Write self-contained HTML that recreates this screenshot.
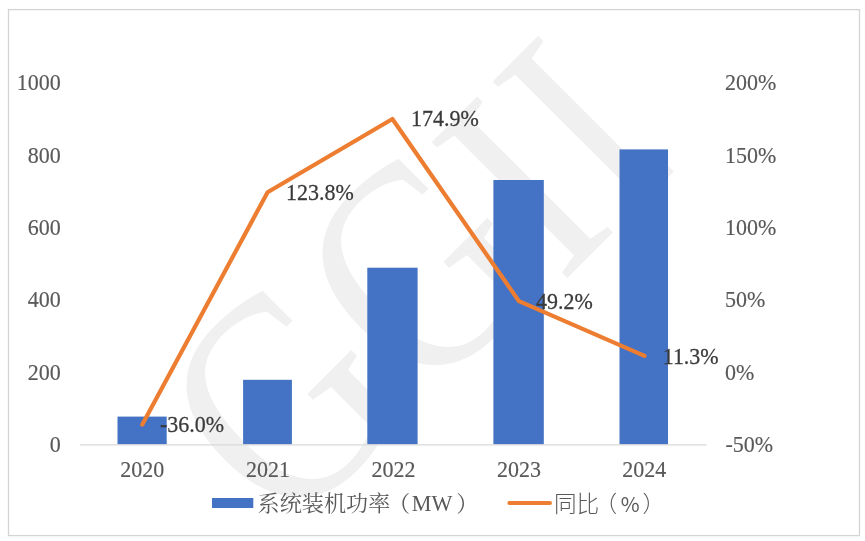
<!DOCTYPE html>
<html lang="zh">
<head>
<meta charset="utf-8">
<title>chart</title>
<style>
html,body{margin:0;padding:0;background:#fff;}
body{width:865px;height:541px;overflow:hidden;position:relative;}
svg{position:absolute;left:0;top:0;display:block;}
text{font-family:"Liberation Serif","Noto Serif CJK SC",serif;}
.ax text,.dl text{transform-box:fill-box;transform-origin:50% 62%;transform:scale(1,1.05);}
.ax{font-size:22px;fill:#595959;stroke:#595959;stroke-width:0.15px;}
.dl{font-size:22px;fill:#3a3a3a;stroke:#3a3a3a;stroke-width:0.25px;}
.lg{font-size:22.15px;fill:#595959;font-family:"Liberation Serif","Noto Serif CJK SC",serif;}
.lg2{font-size:22.6px;fill:#595959;font-weight:300;font-family:"Noto Sans CJK SC","Liberation Sans",sans-serif;}
</style>
</head>
<body>
<svg width="865" height="541" viewBox="0 0 865 541">
<rect x="0" y="0" width="865" height="541" fill="#ffffff"/>
<!-- watermark -->
<g fill="#f0f0f0" font-family="Liberation Serif, serif">
<text font-size="265" transform="translate(286.8,536.8) rotate(-45) scale(0.97,1.14)">G</text>
<text font-size="265" transform="translate(422.8,404.8) rotate(-45) scale(0.97,1.14)">G</text>
<text font-size="265" transform="translate(561.1,284.2) rotate(-45) scale(0.93,1.106)">I</text>
<text font-size="265" transform="translate(622,223.4) rotate(-45) scale(0.93,1.106)">I</text>
</g>
<!-- frame -->
<rect x="8.5" y="9.6" width="851" height="526" fill="none" stroke="#d4d4d4" stroke-width="1.3"/>
<!-- bars -->
<g fill="#4472c4">
<rect x="117.5" y="416.6" width="49.2" height="27.8"/>
<rect x="243.1" y="379.8" width="48.8" height="64.6"/>
<rect x="367.3" y="267.7" width="50.3" height="176.7"/>
<rect x="493.4" y="180" width="50.4" height="264.4"/>
<rect x="619.5" y="149.4" width="48.5" height="295"/>
</g>
<!-- axis -->
<line x1="80" y1="444.9" x2="706.5" y2="444.9" stroke="#d9d9d9" stroke-width="1.3"/>
<!-- line -->
<polyline points="142.3,424.6 267.6,192.2 392.4,119 518.9,301.1 644.5,355.9" fill="none" stroke="#ed7d31" stroke-width="4.2" stroke-linejoin="round" stroke-linecap="round"/>
<!-- left axis labels -->
<g class="ax" text-anchor="end">
<text x="60.7" y="90.2">1000</text>
<text x="60.7" y="162.5">800</text>
<text x="60.7" y="234.8">600</text>
<text x="60.7" y="307.1">400</text>
<text x="60.7" y="379.4">200</text>
<text x="60.7" y="451.6">0</text>
</g>
<!-- right axis labels -->
<g class="ax">
<text x="725" y="90.2">200%</text>
<text x="725" y="162.5">150%</text>
<text x="725" y="234.8">100%</text>
<text x="725" y="307.1">50%</text>
<text x="725" y="379.4">0%</text>
<text x="725.5" y="451.6">-50%</text>
</g>
<!-- x labels -->
<g class="ax" text-anchor="middle">
<text x="142.3" y="476.8">2020</text>
<text x="268" y="476.8">2021</text>
<text x="393.5" y="476.8">2022</text>
<text x="518.9" y="476.8">2023</text>
<text x="644.3" y="476.8">2024</text>
</g>
<!-- data labels -->
<g class="dl">
<text x="160" y="432">-36.0%</text>
<text x="286" y="199.5">123.8%</text>
<text x="411" y="125.4">174.9%</text>
<text x="536" y="308.7">49.2%</text>
<text x="662.7" y="364">11.3%</text>
</g>
<!-- legend -->
<rect x="212" y="498" width="41.3" height="10" fill="#4472c4"/>
<text class="lg" x="257.5" y="511.3">系统装机功率<tspan dx="-2.3">（</tspan><tspan dx="1.6">MW</tspan><tspan dx="3.8">）</tspan></text>
<line x1="509.3" y1="503" x2="550" y2="503" stroke="#ed7d31" stroke-width="3.9" stroke-linecap="round"/>
<text class="lg2" y="512.2"><tspan x="554">同比</tspan><tspan x="594.5">（</tspan><tspan x="620.8" font-weight="400" font-size="20.5">%</tspan><tspan x="642.5">）</tspan></text>
</svg>
</body>
</html>
